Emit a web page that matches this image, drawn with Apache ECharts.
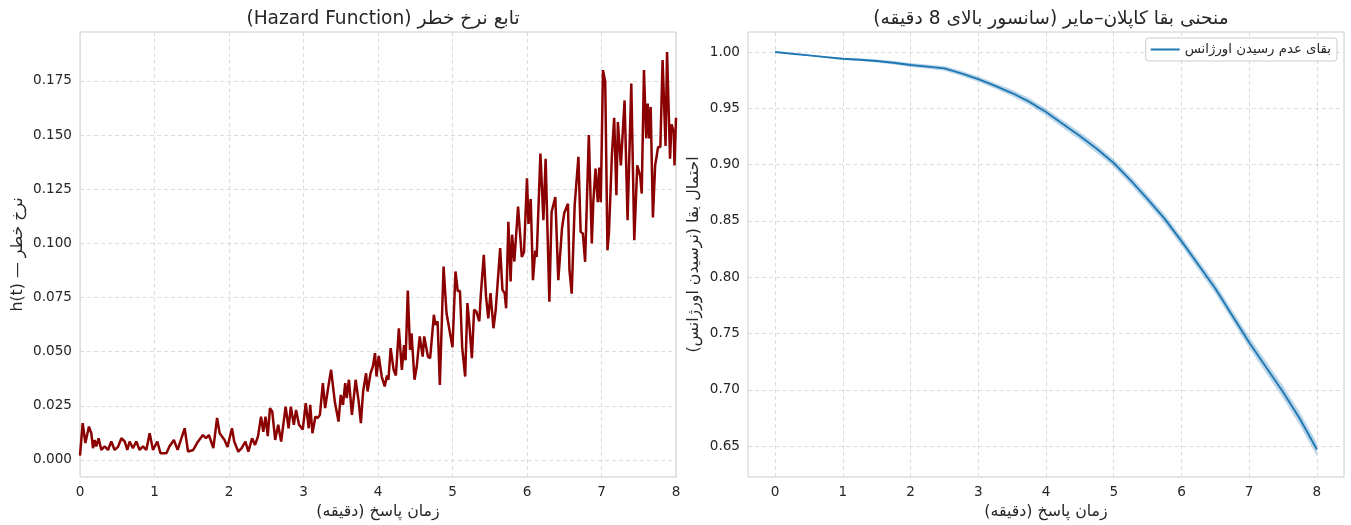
<!DOCTYPE html>
<html>
<head>
<meta charset="utf-8">
<script src="https://cdn.jsdelivr.net/npm/echarts@6/dist/echarts.min.js"></script>
<style>html,body{margin:0;padding:0;background:#fff}#c{width:1351px;height:525px}</style>
</head>
<body>
<div id="c"></div>
<script>
// ---- Hazard function (left) ----
var hazT = [0.000,0.036,0.072,0.12,0.152,0.174,0.197,0.219,0.25,0.286,0.331,0.376,0.42,0.465,0.51,0.555,0.6,0.635,0.666,0.71,0.756,0.8,0.845,0.89,0.935,0.98,
1.038,1.08,1.16,1.20,1.26,1.31,1.405,1.45,1.52,1.575,1.65,1.69,1.73,1.79,1.84,1.875,1.94,1.98,
2.04,2.07,2.125,2.17,2.22,2.26,2.31,2.35,2.39,2.43,2.46,2.49,2.52,2.55,2.58,2.62,2.66,2.70,2.76,2.80,2.83,2.87,2.90,2.94,2.99,
3.03,3.07,3.09,3.12,3.16,3.19,3.22,3.26,3.29,3.33,3.37,3.42,3.47,3.50,3.53,3.56,3.58,3.61,3.65,3.70,3.74,3.77,3.80,3.84,3.86,3.90,3.93,3.96,3.98,
4.01,4.05,4.09,4.12,4.14,4.17,4.21,4.24,4.28,4.32,4.35,4.37,4.40,4.43,4.45,4.49,4.52,4.56,4.60,4.62,4.67,4.70,4.75,4.77,4.80,4.83,4.88,4.92,4.94,
5.00,5.04,5.07,5.10,5.13,5.17,5.20,5.23,5.26,5.29,5.32,5.36,5.38,5.42,5.45,5.48,5.51,5.55,5.58,5.64,5.67,5.70,5.72,5.75,5.78,5.80,5.83,5.88,5.93,5.96,
6.00,6.02,6.05,6.08,6.11,6.13,6.18,6.22,6.25,6.30,6.33,6.38,6.42,6.47,6.50,6.55,6.57,6.60,6.64,6.69,6.72,6.75,6.78,6.83,6.87,6.89,6.92,6.95,6.97,6.99,
7.02,7.05,7.08,7.10,7.14,7.17,7.20,7.22,7.26,7.31,7.35,7.40,7.44,7.48,7.52,7.54,7.57,7.60,7.62,7.64,7.66,7.69,7.72,7.76,7.79,7.82,7.86,7.88,7.92,7.94,7.97,7.98,8.00];
var hazH = [0.002,0.017,0.0078,0.0154,0.0123,0.0054,0.0092,0.0062,0.010,0.0046,0.0062,0.0046,0.0085,0.0046,0.006,0.010,0.0085,0.0046,0.0085,0.0054,0.0085,0.0046,0.0062,0.0046,0.0123,0.0046,
0.0085,0.0031,0.0031,0.0062,0.0092,0.0046,0.0146,0.0039,0.0046,0.0080,0.0115,0.010,0.0115,0.0054,0.0194,0.0123,0.0092,0.0060,
0.0146,0.0085,0.0038,0.0054,0.0085,0.0038,0.010,0.0069,0.011,0.020,0.013,0.020,0.011,0.0239,0.0224,0.0092,0.0162,0.0085,0.0246,0.0146,0.0246,0.0162,0.0231,0.0162,0.014,
0.0262,0.0146,0.0254,0.0123,0.020,0.0193,0.0208,0.0354,0.0239,0.0331,0.0416,0.027,0.0177,0.030,0.0254,0.0354,0.0285,0.037,0.0208,0.037,0.027,0.017,0.0316,0.040,0.0316,0.040,0.043,0.0493,0.0385,
0.048,0.0385,0.0339,0.039,0.037,0.0516,0.0416,0.039,0.0608,0.0416,0.053,0.046,0.0782,0.0508,0.0585,0.037,0.0431,0.057,0.0477,0.057,0.0477,0.047,0.067,0.0624,0.064,0.0346,0.0893,0.0677,0.067,
0.052,0.087,0.078,0.078,0.052,0.0385,0.0724,0.0608,0.047,0.0693,0.0685,0.064,0.0762,0.0947,0.0755,0.0654,0.077,0.0608,0.0693,0.0978,0.0785,0.077,0.070,0.110,0.0824,0.104,0.0916,0.117,0.0937,0.096,
0.130,0.109,0.1205,0.083,0.0966,0.0937,0.1415,0.1107,0.139,0.073,0.1145,0.1214,0.083,0.107,0.114,0.1183,0.0876,0.0768,0.1176,0.140,0.1053,0.1045,0.0914,0.150,0.0999,0.119,0.1345,0.119,0.135,0.119,
0.180,0.1745,0.0968,0.105,0.141,0.158,0.1222,0.156,0.136,0.166,0.1107,0.1738,0.1014,0.136,0.131,0.123,0.180,0.1485,0.1645,0.1485,0.163,0.112,0.136,0.1445,0.1445,0.1846,0.145,0.1884,0.1391,0.155,0.1514,0.136,0.158];

// ---- Kaplan-Meier (right) ----
var kmT  = [0,0.25,0.5,0.75,1.0,1.25,1.5,1.75,2.0,2.25,2.5,2.75,3.0,3.25,3.5,3.75,4.0,4.25,4.5,4.75,5.0,5.25,5.5,5.75,6.0,6.25,6.5,6.75,7.0,7.25,7.5,7.75,8.0];
var kmS  = [1.000,0.9985,0.997,0.9955,0.994,0.9932,0.992,0.9905,0.9885,0.987,0.9855,0.981,0.976,0.970,0.9636,0.956,0.9467,0.936,0.9254,0.914,0.9014,0.886,0.8694,0.852,0.832,0.811,0.790,0.766,0.742,0.720,0.698,0.674,0.647];
var kmLo = [1.000,0.9981,0.9964,0.9947,0.993,0.9920,0.9906,0.9889,0.9868,0.9851,0.9834,0.9787,0.9737,0.9674,0.9608,0.9529,0.9435,0.9326,0.9219,0.9104,0.8978,0.8822,0.8655,0.8479,0.8279,0.8067,0.7855,0.7613,0.7370,0.7147,0.6925,0.6682,0.6410];
var kmHi = [1.000,0.9989,0.9976,0.9963,0.995,0.9944,0.9934,0.9921,0.9902,0.9889,0.9876,0.9833,0.9783,0.9726,0.9664,0.9591,0.9499,0.9394,0.9289,0.9176,0.9050,0.8898,0.8733,0.8561,0.8361,0.8153,0.7945,0.7707,0.7470,0.7253,0.7035,0.6798,0.6530];

// ---- tick values ----
var hazTicksX = [0,1,2,3,4,5,6,7,8];
var hazTicksY = [0,0.025,0.05,0.075,0.1,0.125,0.15,0.175];
var kmTicksX = [0,1,2,3,4,5,6,7,8];
var kmTicksY = [0.65,0.70,0.75,0.80,0.85,0.90,0.95,1.00];

var titleL = '(Hazard Function) تابع نرخ خطر';
var titleR = 'منحنی بقا کاپلان–مایر (سانسور بالای 8 دقیقه)\u200F';
var xName = 'زمان پاسخ (دقیقه)\u200F';
var yNameL = 'h(t) — نرخ خطر';
var yNameR = 'احتمال بقا (نرسیدن اورژانس)\u200F';
var legendName = 'بقای عدم رسیدن اورژانس';

var FONT = 'DejaVu Sans';
var TXT = '#262626';
var GRIDC = '#dcdcdc';
var TICKFS = 13.6;
var LABFS = 15.8;
var TITFS = 18.6;

function zip(a,b){ return a.map(function(v,i){ return [v,b[i]]; }); }

function valAxis(o, ticks, fmt){
  return Object.assign({
    type:'value',
    axisLine:{show:false},
    axisTick:{show:false, customValues:ticks},
    axisLabel:{color:TXT, fontFamily:FONT, fontSize:TICKFS, margin:8, customValues:ticks, formatter:fmt},
    splitLine:{show:true, lineStyle:{color:GRIDC, type:[4,3], width:1}},
    nameTextStyle:{color:TXT, fontFamily:FONT, fontSize:LABFS}
  }, o);
}

var chart = echarts.init(document.getElementById('c'), null, {renderer:'canvas'});
chart.setOption({
  animation:false,
  backgroundColor:'#fff',
  title:[
    {text:titleL, left:378, top:5, textAlign:'center', textStyle:{color:TXT, fontFamily:FONT, fontSize:TITFS, fontWeight:'normal'}},
    {text:titleR, left:1046, top:5, textAlign:'center', textStyle:{color:TXT, fontFamily:FONT, fontSize:TITFS, fontWeight:'normal'}}
  ],
  legend:{
    data:[legendName], right:14, top:38, orient:'vertical',
    backgroundColor:'rgba(255,255,255,0.85)', borderColor:'#cccccc', borderWidth:1, borderRadius:3,
    padding:[5,6,5,5], itemWidth:29, itemHeight:12, itemGap:4,
    textStyle:{color:TXT, fontFamily:FONT, fontSize:13.3},
    icon:'path://M0,5 L29,5 L29,7 L0,7 Z'
  },
  grid:[
    {left:80, right:675, top:32, bottom:48, show:true, borderColor:'#cccccc', borderWidth:1, backgroundColor:'transparent'},
    {left:748, right:7, top:32, bottom:48, show:true, borderColor:'#cccccc', borderWidth:1, backgroundColor:'transparent'}
  ],
  xAxis:[
    valAxis({gridIndex:0, min:0, max:8, name:xName, nameLocation:'middle', nameGap:27}, hazTicksX, function(v){return String(v);}),
    valAxis({gridIndex:1, min:-0.4, max:8.4, name:xName, nameLocation:'middle', nameGap:27}, kmTicksX, function(v){return String(v);})
  ],
  yAxis:[
    valAxis({gridIndex:0, min:-0.0079, max:0.1976, name:yNameL, nameLocation:'middle', nameGap:54, nameRotate:90}, hazTicksY, function(v){ return v.toFixed(3); }),
    valAxis({gridIndex:1, min:0.6225, max:1.0178, name:yNameR, nameLocation:'middle', nameGap:46, nameRotate:90}, kmTicksY, function(v){ return v.toFixed(2); })
  ],
  series:[
    {type:'line', name:'hazard', xAxisIndex:0, yAxisIndex:0, data:zip(hazT,hazH), showSymbol:false, symbol:'none',
      lineStyle:{color:'#8b0000', width:2.5}, z:3},
    {type:'custom', name:'ci', xAxisIndex:1, yAxisIndex:1, data:[[0,1]], silent:true, z:2,
      renderItem:function(params, api){
        var pts = [];
        for (var i=0;i<kmT.length;i++) pts.push(api.coord([kmT[i], kmHi[i]]));
        for (var j=kmT.length-1;j>=0;j--) pts.push(api.coord([kmT[j], kmLo[j]]));
        return {type:'polygon', shape:{points:pts}, style:{fill:'rgba(31,119,180,0.3)', stroke:'none'}};
      }},
    {type:'line', name:legendName, xAxisIndex:1, yAxisIndex:1, data:zip(kmT,kmS), symbol:'none',
      itemStyle:{color:'#1f77b4'}, lineStyle:{color:'#1f77b4', width:1.9}, z:3}
  ]
});
</script>
</body>
</html>
